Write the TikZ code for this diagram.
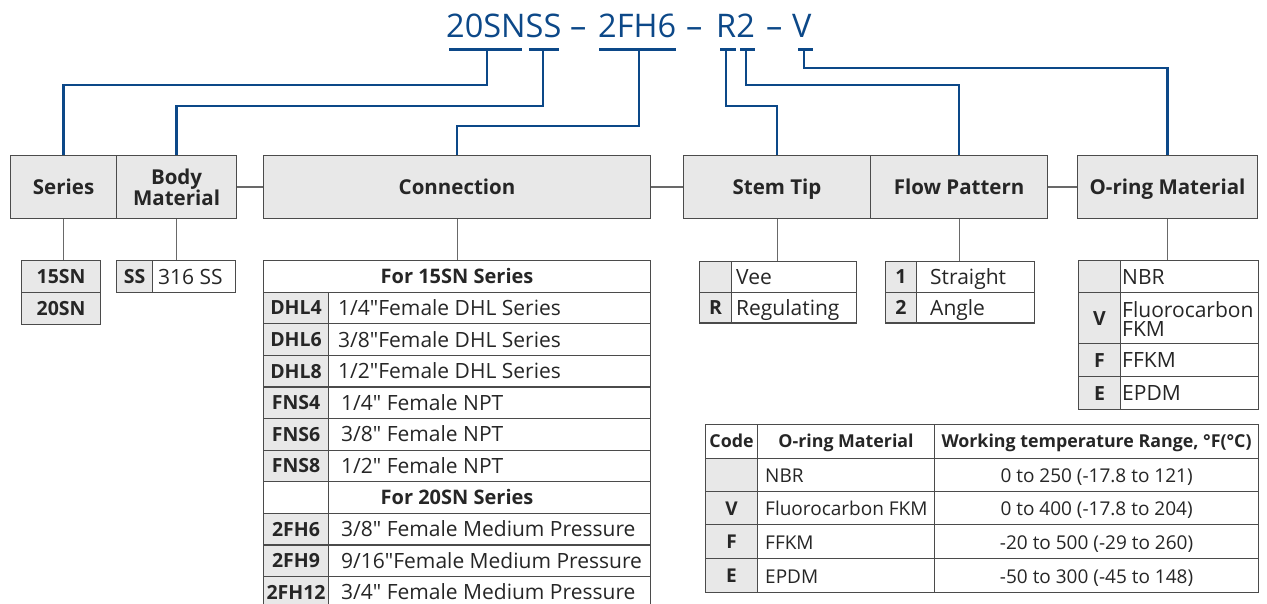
\documentclass[tikz,border=0pt]{standalone}
\usepackage{fontspec}
\setmainfont{Open Sans}[Ligatures=TeXOff]
\definecolor{bl}{RGB}{12,72,136}
\definecolor{gf}{RGB}{232,232,232}
\definecolor{bd}{RGB}{75,75,75}
\definecolor{gl}{RGB}{105,105,105}
\definecolor{tx}{RGB}{38,38,38}
\newcommand\fsT{\fontsize{32.5}{36}\selectfont}
\newcommand\fsH{\fontsize{20.5}{23}\selectfont}
\newcommand\fsA{\fontsize{21}{22}\selectfont}
\newcommand\fsK{\fontsize{19.5}{22}\selectfont}
\newcommand\fsL{\fontsize{20}{22}\selectfont}
\newcommand\fsB{\fontsize{19}{20}\selectfont}
\newcommand\fsC{\fontsize{17.8}{19}\selectfont}
\newcommand\connrow[5]{%
  \node[gcell, minimum width=65pt, minimum height=31.6pt] (#1c) at (263,#2) {#3};
  \node[wcell, minimum width=322pt, minimum height=31.6pt] (#1d) at (328,#2) {};
  \node[txt] (#1t) at ([xshift=#5]#1d.west) {#4};}
\newcommand\botrow[5]{%
  \node[gcell, font=\fsB\bfseries, minimum width=52pt, minimum height=#3] (#1c) at (705,#2) {#4};
  \node[wcell, minimum width=177pt, minimum height=#3] (#1m) at (757,#2) {};
  \node[txt, font=\fsB] (#1mt) at ([xshift=8pt]#1m.west) {#5};
  \node[wcell, minimum width=324pt, minimum height=#3] (#1r) at (934,#2) {};}
\begin{document}
\begin{tikzpicture}[x=1pt,y=-1pt,
  every node/.style={inner sep=0pt, text=tx},
  box/.style={draw=bd, line width=1.1pt, anchor=north west, inner sep=0pt},
  hdrb/.style={box, fill=gf, font=\fsH\bfseries, align=center},
  hdr/.style={hdrb, text height=14.5pt, text depth=0pt},
  gcell/.style={box, fill=gf, font=\fsK\bfseries, text height=14pt, text depth=0pt},
  wcell/.style={box, fill=white},
  txt/.style={font=\fsA, text height=15pt, text depth=0pt, anchor=west},
  bline/.style={draw=bl, line width=2.2pt},
  uline/.style={draw=bl, line width=3pt},
  gline/.style={draw=gl, line width=1.1pt},
  title/.style={font=\fsT, text=bl, anchor=base west}
]
\useasboundingbox (0,0) rectangle (1267,604);

% ---------- title ----------
\node[title] (t1) at (446,38) {20SNSS};
\node[title] (m1) at (570,38) {–};
\node[title] (t3) at (598,38) {2FH6};
\node[title] (m2) at (686,38) {–};
\node[title] (t4) at (716,38) {R2};
\node[title] (m3) at (766,38) {–};
\node[title] (t6) at (792,38) {V};

\draw[uline] (449,50) -- (522,50);
\draw[uline] (529,50) -- (559,50);
\draw[uline] (599,50) -- (676,50);
\draw[uline] (720,50) -- (736,50);
\draw[uline] (740,50) -- (755,50);
\draw[uline] (798,50) -- (813,50);

\coordinate (p1) at (487,50);
\coordinate (p2) at (543,50);
\coordinate (p3) at (639,50);
\coordinate (p4) at (726,50);
\coordinate (p5) at (746,50);
\coordinate (p6) at (804,50);

% ---------- header boxes ----------
\node[hdr, minimum width=106pt, minimum height=63pt] (series) at (10,155) {Series};
\node[hdrb, minimum width=120pt, minimum height=63pt] (body) at (116,155) {Body\\[-2pt]Material};
\node[hdr, minimum width=387pt, minimum height=63pt] (conn) at (263,155) {Connection};
\node[hdr, minimum width=187pt, minimum height=63pt] (stem) at (683,155) {Stem Tip};
\node[hdr, minimum width=177pt, minimum height=63pt] (flow) at (870,155) {Flow Pattern};
\node[hdr, minimum width=180pt, minimum height=63pt] (oring) at (1077,155) {O-ring Material};

% ---------- blue connectors ----------
\draw[bline] (p1) -- ++(0,35) -| (series.north);
\draw[bline] (p2) -- ++(0,56) -| (body.north);
\draw[bline] (p3) -- ++(0,76) -| (conn.north);
\draw[bline] (p4) -- ++(0,56) -| (stem.north);
\draw[bline] (p5) -- ++(0,35) -| (flow.north);
\draw[bline] (p6) -- ++(0,18) -| (oring.north);

% ---------- series options ----------
\node[gcell, minimum width=79pt, minimum height=32pt] (s15) at (21,260) {15SN};
\node[gcell, minimum width=79pt, minimum height=32pt] (s20) at (21,292) {20SN};

% ---------- body options ----------
\node[gcell, minimum width=36pt, minimum height=32pt] (ssc) at (116,260) {SS};
\node[wcell, minimum width=83pt, minimum height=32pt] (ssd) at (152,260) {};
\node[txt] (sst) at ([xshift=6pt]ssd.west) {316 SS};

% ---------- connection table ----------
\node[wcell, minimum width=387pt, minimum height=31.6pt, font=\fsL\bfseries, text height=14.3pt, text depth=0pt] (f15) at (263,260) {For 15SN Series};
\connrow{r1}{291.6}{DHL4}{1/4"Female DHL Series}{10pt}
\connrow{r2}{323.2}{DHL6}{3/8"Female DHL Series}{10pt}
\connrow{r3}{354.8}{DHL8}{1/2"Female DHL Series}{10pt}
\connrow{r4}{386.4}{FNS4}{1/4" Female NPT}{13pt}
\connrow{r5}{418}{FNS6}{3/8" Female NPT}{13pt}
\connrow{r6}{449.6}{FNS8}{1/2" Female NPT}{13pt}
\node[wcell, minimum width=387pt, minimum height=31.6pt, font=\fsL\bfseries, text height=14.3pt, text depth=0pt] (f20) at (263,481.2) {For 20SN Series};
\node[box, minimum width=65pt, minimum height=31.6pt] (f20c) at (263,481.2) {};
\connrow{r8}{512.8}{2FH6}{3/8" Female Medium Pressure}{13pt}
\connrow{r9}{544.4}{2FH9}{9/16"Female Medium Pressure}{13pt}
\connrow{r10}{576}{2FH12}{3/4" Female Medium Pressure}{13pt}

% ---------- stem tip options ----------
\node[gcell, minimum width=32pt, minimum height=30.7pt] (stc1) at (699,261) {};
\node[wcell, minimum width=125pt, minimum height=30.7pt] (std1) at (731,261) {};
\node[txt] (stt1) at ([xshift=5pt]std1.west) {Vee};
\node[gcell, minimum width=32pt, minimum height=30.7pt] (stc2) at (699,291.7) {R};
\node[wcell, minimum width=125pt, minimum height=30.7pt] (std2) at (731,291.7) {};
\node[txt] (stt2) at ([xshift=5pt]std2.west) {Regulating};

% ---------- flow options ----------
\node[gcell, minimum width=31pt, minimum height=30.7pt] (flc1) at (885,261) {1};
\node[wcell, minimum width=118pt, minimum height=30.7pt] (fld1) at (916,261) {};
\node[txt] (flt1) at ([xshift=14pt]fld1.west) {Straight};
\node[gcell, minimum width=31pt, minimum height=30.7pt] (flc2) at (885,291.7) {2};
\node[wcell, minimum width=118pt, minimum height=30.7pt] (fld2) at (916,291.7) {};
\node[txt] (flt2) at ([xshift=14pt]fld2.west) {Angle};

% ---------- o-ring options ----------
\node[gcell, minimum width=42pt, minimum height=32pt] (orc1) at (1078,260) {};
\node[wcell, minimum width=138pt, minimum height=32pt] (ord1) at (1120,260) {};
\node[txt] (ort1) at ([xshift=2pt]ord1.west) {NBR};
\node[gcell, minimum width=42pt, minimum height=51pt] (orc2) at (1078,292) {V};
\node[wcell, minimum width=138pt, minimum height=51pt] (ord2) at (1120,292) {};
\node[font=\fsA, align=left, anchor=west] (ort2) at ([xshift=2pt,yshift=-1pt]ord2.west) {Fluorocarbon\\[-3pt]FKM};
\node[gcell, minimum width=42pt, minimum height=33pt] (orc3) at (1078,343) {F};
\node[wcell, minimum width=138pt, minimum height=33pt] (ord3) at (1120,343) {};
\node[txt] (ort3) at ([xshift=2pt]ord3.west) {FFKM};
\node[gcell, minimum width=42pt, minimum height=33pt] (orc4) at (1078,376) {E};
\node[wcell, minimum width=138pt, minimum height=33pt] (ord4) at (1120,376) {};
\node[txt] (ort4) at ([xshift=2pt]ord4.west) {EPDM};

% ---------- gray connectors ----------
\draw[gline] (series.south) -- (series.south |- s15.north);
\draw[gline] (body.south) -- (body.south |- ssc.north);
\draw[gline] (conn.south) -- (conn.south |- f15.north);
\draw[gline] (stem.south) -- (stem.south |- std1.north);
\draw[gline] (flow.south) -- (flow.south |- fld1.north);
\draw[gline] (oring.south) -- (oring.south |- ord1.north);
\draw[gline] (body.east) -- (conn.west);
\draw[gline] (conn.east) -- (stem.west);
\draw[gline] (flow.east) -- (oring.west);

% ---------- temperature table ----------
\node[wcell, minimum width=52pt, minimum height=34pt, font=\fsC\bfseries, text height=12.7pt, text depth=0pt] (hc) at (705,424) {Code};
\node[wcell, minimum width=177pt, minimum height=34pt, font=\fsC\bfseries, text height=12.7pt, text depth=0pt] (hm) at (757,424) {O-ring Material};
\node[wcell, minimum width=324pt, minimum height=34pt, font=\fsC\bfseries, text height=12.7pt, text depth=0pt] (hr) at (934,424) {Working temperature Range, °F(°C)};
\botrow{b1}{458}{33pt}{}{NBR}
\botrow{b2}{491}{33pt}{V}{Fluorocarbon FKM}
\botrow{b3}{524}{34pt}{F}{FFKM}
\botrow{b4}{558}{34pt}{E}{EPDM}
\node[txt, font=\fsB, anchor=center] (b1rt) at (b1r.center) {0 to 250 (-17.8 to 121)};
\node[txt, font=\fsB, anchor=center] (b2rt) at (b2r.center) {0 to 400 (-17.8 to 204)};
\node[txt, font=\fsB, anchor=center] (b3rt) at (b3r.center) {-20 to 500 (-29 to 260)};
\node[txt, font=\fsB, anchor=center] (b4rt) at (b4r.center) {-50 to 300 (-45 to 148)};
\end{tikzpicture}
\end{document}
